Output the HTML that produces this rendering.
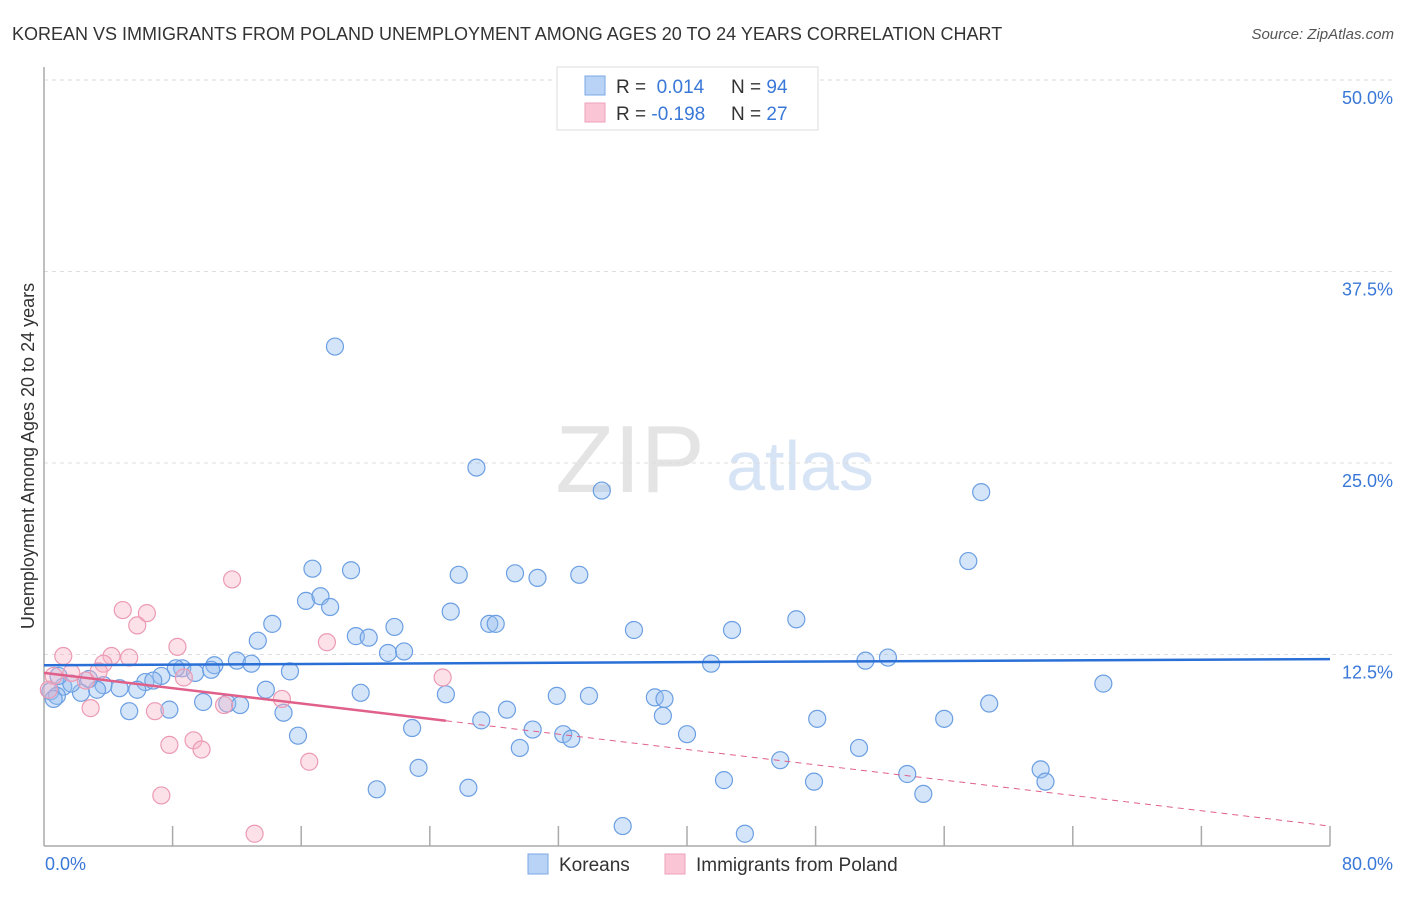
<!DOCTYPE html>
<html><head><meta charset="utf-8"><style>
body{margin:0;background:#fff;font-family:"Liberation Sans",sans-serif;}
svg text{font-family:"Liberation Sans",sans-serif;}
</style></head><body>
<svg id="chart" width="1406" height="892">
<text x="12" y="40" font-size="18" fill="#333">KOREAN VS IMMIGRANTS FROM POLAND UNEMPLOYMENT AMONG AGES 20 TO 24 YEARS CORRELATION CHART</text>
<text x="1394" y="39" font-size="15" fill="#555" font-style="italic" text-anchor="end">Source: ZipAtlas.com</text>
<text x="630" y="492" font-size="96" fill="#e4e4e4" font-family="Liberation Serif" text-anchor="middle">ZIP</text>
<text x="800" y="490" font-size="70" fill="#d6e4f5" text-anchor="middle">atlas</text>
<text transform="translate(34,456) rotate(-90)" font-size="18" fill="#333" text-anchor="middle">Unemployment Among Ages 20 to 24 years</text>
<g id="grid"></g><g id="pts"></g><g id="trend"></g>
<g>
<rect x="557" y="67" width="261" height="63" fill="#fff" stroke="#ddd"/>
<rect x="585" y="76" width="20" height="19" fill="#b8d3f5" stroke="#7aa8e6"/>
<rect x="585" y="103" width="20" height="19" fill="#fac6d6" stroke="#eea0b8"/>
<text x="616" y="93" font-size="19" fill="#333">R = <tspan fill="#3a78d8">&#160;0.014</tspan><tspan x="731">N = </tspan><tspan fill="#3a78d8">94</tspan></text>
<text x="616" y="120" font-size="19" fill="#333">R = <tspan fill="#3a78d8">-0.198</tspan><tspan x="731">N = </tspan><tspan fill="#3a78d8">27</tspan></text>
</g>
<g>
<rect x="528" y="854" width="20" height="20" fill="#b8d3f5" stroke="#7aa8e6"/>
<text x="559" y="871" font-size="19" fill="#333">Koreans</text>
<rect x="665" y="854" width="20" height="20" fill="#fac6d6" stroke="#eea0b8"/>
<text x="696" y="871" font-size="19" fill="#333">Immigrants from Poland</text>
</g>
</svg>
<script>
const yTicks=[12.5,25,37.5,50];
const xTickLabels=["0.0%","80.0%"];
const koreanX=[18.1,26.9,34.7,58.3,57.5,16.7,19.1,25.8,29.3,30.7,33.3,16.3,17.2,17.8,25.3,27.7,28.1,46.8,14.2,21.8,36.7,42.8,19.4,20.2,13.3,21.4,22.4,51.1,52.5,41.5,12.0,12.9,10.6,8.6,15.3,8.2,7.3,9.4,10.4,6.3,6.8,3.7,65.9,13.8,19.7,25.0,31.9,33.9,38.0,38.6,4.7,5.8,3.3,2.3,1.2,0.4,0.8,9.9,11.4,12.2,58.8,5.3,7.8,14.9,28.8,38.5,48.1,56.0,27.2,22.9,30.4,32.3,32.8,15.8,40.0,29.6,50.7,45.8,23.3,62.0,53.7,42.3,47.9,62.3,20.7,26.4,54.7,36.0,43.6,47.1,1.7,2.8,0.9,0.6];
const koreanY=[32.6,24.7,23.2,23.1,18.6,18.1,18.0,17.7,17.8,17.5,17.7,16.0,16.3,15.6,15.3,14.5,14.5,14.8,14.5,14.3,14.1,14.1,13.7,13.6,13.4,12.6,12.7,12.1,12.3,11.9,12.1,11.9,11.8,11.6,11.4,11.6,11.1,11.3,11.5,10.7,10.8,10.5,10.6,10.2,10.0,9.9,9.8,9.8,9.7,9.6,10.3,10.2,10.2,10.0,10.4,10.1,9.8,9.4,9.3,9.2,9.3,8.8,8.9,8.7,8.9,8.5,8.3,8.3,8.2,7.7,7.6,7.3,7.0,7.2,7.3,6.4,6.4,5.6,5.1,5.0,4.7,4.3,4.2,4.2,3.7,3.8,3.4,1.3,0.8,47.6,10.6,10.9,11.1,9.6];
const polandX=[11.7,4.9,6.4,5.8,8.3,17.6,1.2,4.2,5.3,3.7,1.7,0.6,2.6,8.7,24.8,14.8,11.2,2.9,6.9,7.8,9.3,9.8,16.5,7.3,13.1,0.3,3.4];
const polandY=[17.4,15.4,15.2,14.4,13.0,13.3,12.4,12.4,12.3,11.9,11.3,11.1,10.8,11.0,11.0,9.6,9.2,9.0,8.8,6.6,6.9,6.3,5.5,3.3,0.8,10.2,11.4];
const koreanTrend=[11.8,12.2];
const polandTrend=[11.3,1.3];
const polandSolidEnd=25;
const NS="http://www.w3.org/2000/svg";
const X0=44,X1=1330,Y0=846,YTOP=80;
function sx(v){return X0+(v/80)*(X1-X0);}
function sy(v){return Y0-(v/50)*(Y0-YTOP);}
function mk(tag,attrs,parent){const e=document.createElementNS(NS,tag);for(const k in attrs)e.setAttribute(k,attrs[k]);parent.appendChild(e);return e;}
const grid=document.getElementById('grid');
yTicks.forEach(t=>{
 const l=mk('line',{x1:X0,x2:1394,y1:sy(t),y2:sy(t),stroke:'#ddd','stroke-dasharray':'4,4'},grid);
 
 
 const tx=mk('text',{x:1393,y:sy(t)+24,'font-size':18,fill:'#3a78d8','text-anchor':'end'},grid);
 tx.textContent=t.toFixed(1)+'%';
 
 
});
const ax=mk('line',{x1:X0,x2:X0,y1:67,y2:Y0,stroke:'#aaa','stroke-width':1.5},grid);


const bx=mk('line',{x1:X0,x2:X1,y1:Y0,y2:Y0,stroke:'#aaa','stroke-width':1.5},grid);


for(let i=1;i<=10;i++){const v=i*8;const t=mk('line',{x1:sx(v),x2:sx(v),y1:826,y2:Y0,stroke:'#aaa','stroke-width':1.5},grid);
 
 }
const l0=mk('text',{x:45,y:870,'font-size':18,fill:'#3a78d8'},grid);l0.textContent=xTickLabels[0];


const l1=mk('text',{x:1393,y:870,'font-size':18,fill:'#3a78d8','text-anchor':'end'},grid);l1.textContent=xTickLabels[1];


const pts=document.getElementById('pts');
koreanX.forEach((x,i)=>{const c=mk('circle',{cx:sx(x),cy:sy(koreanY[i]),r:8.5,fill:'rgba(150,190,240,0.4)',stroke:'#6b9fe2','stroke-width':1.2},pts);
 
 });
polandX.forEach((x,i)=>{const c=mk('circle',{cx:sx(x),cy:sy(polandY[i]),r:8.5,fill:'rgba(248,180,200,0.4)',stroke:'#ec9ab4','stroke-width':1.2},pts);
 
 });
const tr=document.getElementById('trend');
const kt=mk('line',{x1:sx(0),y1:sy(koreanTrend[0]),x2:sx(80),y2:sy(koreanTrend[1]),stroke:'#2a6fd6','stroke-width':2.5},tr);


const pAt=v=>polandTrend[0]+(polandTrend[1]-polandTrend[0])*v/80;
const ps=mk('line',{x1:sx(0),y1:sy(pAt(0)),x2:sx(polandSolidEnd),y2:sy(pAt(polandSolidEnd)),stroke:'#e0608a','stroke-width':2.5},tr);


const pd=mk('line',{x1:sx(polandSolidEnd),y1:sy(pAt(polandSolidEnd)),x2:sx(80),y2:sy(pAt(80)),stroke:'#e0608a','stroke-width':1,'stroke-dasharray':'6,5'},tr);


</script>
</body></html>
